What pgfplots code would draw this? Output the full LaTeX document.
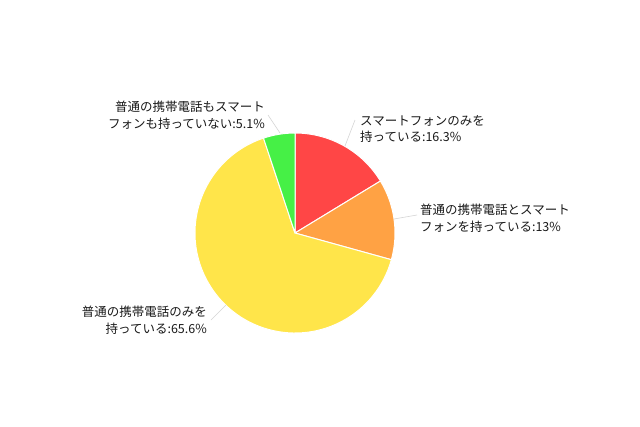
\documentclass[border=0pt]{standalone}
\usepackage{pgfplots}
\usepackage{pgfplotstable}
\usepackage{fontspec}
\pgfplotsset{compat=1.18}
\newfontfamily\cjk{Noto Sans CJK JP}

\definecolor{pred}{HTML}{FF4646}
\definecolor{porange}{HTML}{FFA244}
\definecolor{pyellow}{HTML}{FFE54A}
\definecolor{pgreen}{HTML}{46F046}
\definecolor{leader}{HTML}{D4D4D4}

% share in percent, clockwise from 12 o'clock
\pgfplotstableread{
value
16.3
13
65.6
5.1
}\piedata

\newcommand\slicecolor[1]{\ifcase#1 pred\or porange\or pyellow\or pgreen\fi}
\tikzset{lbl/.style={font=\cjk\fontsize{12.5}{16.5}\selectfont, text=black!90, inner sep=0pt}}

\begin{document}
\begin{tikzpicture}
\begin{axis}[
  scale only axis, width=640pt, height=426pt,
  xmin=0, xmax=640, ymin=0, ymax=426, y dir=reverse,
  hide axis, clip=false,
]
\path (axis cs:0,0) rectangle (axis cs:640,426);
\gdef\cum{0}
\pgfplotstableforeachcolumnelement{value}\of\piedata\as\v{%
  \pgfmathsetmacro\a{90-3.6*\cum}%
  \pgfmathsetmacro\b{90-3.6*(\cum+\v)}%
  \edef\next{\noexpand\fill[\slicecolor{\pgfplotstablerow}, draw=white, line width=1pt, line join=round]
    (axis cs:295,233) -- ++(\a:100pt) arc[start angle=\a, end angle=\b, radius=100pt] -- cycle;}%
  \next
  \pgfmathsetmacro\c{\cum+\v}%
  \xdef\cum{\c}%
}
% leader lines
\draw[leader, line width=0.6pt] (axis cs:345,146) -- (axis cs:355,120);
\draw[leader, line width=0.6pt] (axis cs:394,219) -- (axis cs:417,215);
\draw[leader, line width=0.6pt] (axis cs:226,305) -- (axis cs:211,320);
\draw[leader, line width=0.6pt] (axis cs:280,133) -- (axis cs:268,115);
% labels
\node[lbl, anchor=west, align=left] at (axis cs:360,129) {スマートフォンのみを\\持っている:16.3\%};
\node[lbl, anchor=west, align=left] at (axis cs:420,218) {普通の携帯電話とスマート\\フォンを持っている:13\%};
\node[lbl, anchor=east, align=right] at (axis cs:207,320) {普通の携帯電話のみを\\持っている:65.6\%};
\node[lbl, anchor=east, align=right] at (axis cs:265,115) {普通の携帯電話もスマート\\フォンも持っていない:5.1\%};
\end{axis}
\end{tikzpicture}
\end{document}
